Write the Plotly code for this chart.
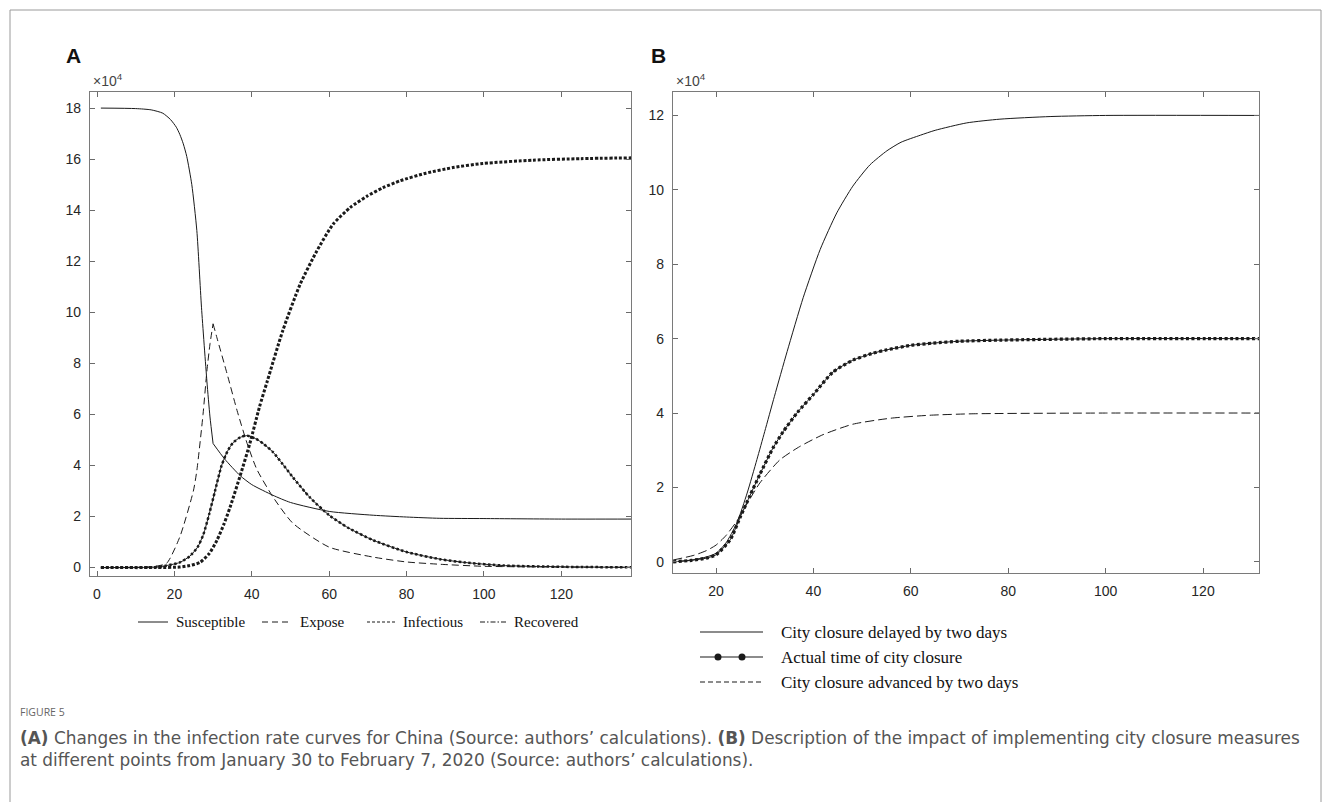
import plotly.graph_objects as go

W, H = 1331, 802

# ---------------- Panel A data (values in units of 10^4) ----------------
s_days = [1, 10, 14, 17, 19, 20.5, 21.4, 22.3, 23.2, 24.5, 25.8, 27, 28.4, 29.2, 30,
          33, 37, 40, 45.5, 50, 60, 71.4, 80, 88.6, 100, 120, 138]
susceptible = [18.0, 17.98, 17.93, 17.8, 17.55, 17.25, 16.97, 16.6, 16.1, 15.0, 13.2, 10.2, 7.3, 5.9, 4.86,
               4.25, 3.6, 3.25, 2.83, 2.55, 2.2, 2.05, 1.98, 1.93, 1.92, 1.9, 1.9]

e_days = [1, 10, 15, 18, 21.4, 24.9, 25.8, 27.4, 28.4, 29.2, 30,
          31, 33.6, 36.2, 38.8, 41.3, 45.5, 50.6, 60, 71.4, 80, 88.6, 100, 120, 138]
expose = [0.0, 0.01, 0.05, 0.17, 1.2, 3.0, 3.8, 6.0, 7.7, 8.76, 9.55,
          9.0, 7.6, 6.15, 4.86, 3.85, 2.76, 1.74, 0.8, 0.41, 0.22, 0.13, 0.05, 0.02, 0.01]

i_days = [1, 10, 15.4, 18, 21.4, 24, 26, 27.5, 29, 30.5, 32.2, 33.7, 35.2, 37, 38.7, 41, 43,
          45.5, 48, 50.6, 55, 60, 65, 71.4, 80, 88.6, 95, 105, 120, 138]
infectious = [0.0, 0.0, 0.02, 0.08, 0.2, 0.45, 0.8, 1.3, 2.1, 3.0, 4.0, 4.55, 4.9, 5.1, 5.17, 5.05, 4.85,
              4.52, 4.05, 3.54, 2.75, 2.05, 1.55, 1.07, 0.61, 0.33, 0.2, 0.08, 0.03, 0.01]

r_days = [1, 15, 21.4, 24, 26.6, 29, 31, 32.8, 34.4, 37, 39.5, 42, 44, 48, 52.5, 56.8, 61,
          65.4, 69.8, 73.9, 78.3, 85, 92, 99.7, 112.7, 125, 138]
recovered = [0.0, 0.0, 0.02, 0.08, 0.2, 0.55, 1.07, 1.7, 2.37, 3.6, 4.86, 6.3, 7.3, 9.28, 11.1, 12.4, 13.45,
             14.1, 14.55, 14.88, 15.15, 15.45, 15.67, 15.83, 15.96, 16.02, 16.05]

# ---------------- Panel B data (values in units of 10^4) ----------------
d_days = [11.2, 15, 18, 20, 22, 24.3, 26.4, 28.4, 30, 32, 34.6, 37.9, 41.4, 44.8, 48.1, 51.6,
          55.1, 58, 62, 65, 71.5, 78.3, 88.6, 100, 131.5]
delayed = [0.0, 0.05, 0.13, 0.23, 0.5, 1.05, 1.85, 2.75, 3.5, 4.45, 5.65, 7.1, 8.4, 9.38, 10.1, 10.67,
           11.05, 11.28, 11.47, 11.6, 11.8, 11.9, 11.97, 12.0, 12.0]

t_days = [11.2, 15, 18, 20, 22.9, 25, 27, 29, 31.7, 33.8, 36.8, 40, 44, 48.1, 52, 55.1, 60,
          64.6, 70, 78.3, 100, 131.5]
actual = [0.0, 0.04, 0.1, 0.19, 0.59, 1.21, 1.79, 2.35, 3.06, 3.5, 4.03, 4.5, 5.1, 5.42, 5.6, 5.7, 5.82,
          5.88, 5.93, 5.96, 6.0, 6.0]

v_days = [11.2, 15.3, 18, 20, 22, 24.3, 27, 29, 33.1, 37.2, 42, 48.1, 55.8, 63.8, 72.8, 100, 131.5]
advanced = [0.05, 0.17, 0.3, 0.45, 0.7, 1.1, 1.7, 2.12, 2.74, 3.1, 3.42, 3.7, 3.86, 3.94, 3.98, 4.0, 4.0]

a_xticks = [0, 20, 40, 60, 80, 100, 120]
a_yticks = [0, 2, 4, 6, 8, 10, 12, 14, 16, 18]
b_xticks = [20, 40, 60, 80, 100, 120]
b_yticks = [0, 2, 4, 6, 8, 10, 12]

legend_a = ["Susceptible", "Expose", "Infectious", "Recovered"]
legend_b = ["City closure delayed by two days", "Actual time of city closure",
            "City closure advanced by two days"]

caption_title = "FIGURE 5"
caption_1 = ("<b>(A)</b> Changes in the infection rate curves for China (Source: authors’ calculations). "
             "<b>(B)</b> Description of the impact of implementing city closure measures")
caption_2 = "at different points from January 30 to February 7, 2020 (Source: authors’ calculations)."

INK = "#1a1a1a"


def X(px):
    return px / W


def Y(py):
    return 1 - py / H


fig = go.Figure()

# Panel A ---------------------------------------------------------------
k = s_days.index(30)
for xs, ys in [(s_days[:k + 1], susceptible[:k + 1]), (s_days[k:], susceptible[k:])]:
    fig.add_trace(go.Scatter(x=xs, y=ys, mode="lines", xaxis="x", yaxis="y", showlegend=False,
                             line=dict(color=INK, width=1, shape="spline", smoothing=0.6)))
ke = e_days.index(30)
for xs, ys in [(e_days[:ke + 1], expose[:ke + 1]), (e_days[ke:], expose[ke:])]:
    fig.add_trace(go.Scatter(x=xs, y=ys, mode="lines", xaxis="x", yaxis="y", showlegend=False,
                             line=dict(color=INK, width=1, dash="7px,4px", shape="spline", smoothing=0.6)))
fig.add_trace(go.Scatter(x=i_days, y=infectious, mode="lines", xaxis="x", yaxis="y", showlegend=False,
                         line=dict(color=INK, width=1, shape="spline", smoothing=0.6)))
fig.add_trace(go.Scatter(x=i_days, y=infectious, mode="lines", xaxis="x", yaxis="y", showlegend=False,
                         line=dict(color=INK, width=2.5, dash="2.5px,2.4px", shape="spline", smoothing=0.6)))
fig.add_trace(go.Scatter(x=r_days, y=recovered, mode="lines", xaxis="x", yaxis="y", showlegend=False,
                         line=dict(color=INK, width=3, dash="3px,1.8px", shape="spline", smoothing=0.6)))

# Panel B ---------------------------------------------------------------
fig.add_trace(go.Scatter(x=d_days, y=delayed, mode="lines", xaxis="x2", yaxis="y2", showlegend=False,
                         line=dict(color=INK, width=1, shape="spline", smoothing=0.6)))
fig.add_trace(go.Scatter(x=t_days, y=actual, mode="lines", xaxis="x2", yaxis="y2", showlegend=False,
                         line=dict(color=INK, width=1, shape="spline", smoothing=0.6)))
fig.add_trace(go.Scatter(x=t_days, y=actual, mode="lines", xaxis="x2", yaxis="y2", showlegend=False,
                         line=dict(color=INK, width=3.2, dash="3px,2.5px", shape="spline", smoothing=0.6)))
fig.add_trace(go.Scatter(x=v_days, y=advanced, mode="lines", xaxis="x2", yaxis="y2", showlegend=False,
                         line=dict(color=INK, width=1, dash="9px,4px", shape="spline", smoothing=0.6)))

axis_common = dict(showline=True, linecolor="#7a7a7a", linewidth=1.3, mirror="ticks",
                   ticks="inside", ticklen=5, tickcolor="#6a6a6a", tickwidth=1,
                   showgrid=False, zeroline=False, ticklabelstandoff=5,
                   tickfont=dict(family="Liberation Sans", size=14, color="#262626"))

fig.update_layout(
    width=W, height=H, margin=dict(l=0, r=0, t=0, b=0),
    paper_bgcolor="white", plot_bgcolor="white", showlegend=False,
    xaxis=dict(domain=[X(90), X(631)], range=[-1.81, 138], tickvals=a_xticks, anchor="y", **axis_common),
    yaxis=dict(domain=[Y(576), Y(92)], range=[-0.33, 18.63], tickvals=a_yticks, anchor="x", **axis_common),
    xaxis2=dict(domain=[X(673), X(1259)], range=[11.17, 131.5], tickvals=b_xticks, anchor="y2", **axis_common),
    yaxis2=dict(domain=[Y(573), Y(92)], range=[-0.30, 12.63], tickvals=b_yticks, anchor="x2", **axis_common),
)

shapes = []
annotations = []

# outer frame
shapes.append(dict(type="rect", xref="paper", yref="paper", x0=X(10), x1=X(1321), y0=Y(830), y1=Y(10),
                   line=dict(color="#9a9a9a", width=1)))

# panel letters and exponents
for txt, px in [("A", 64), ("B", 649)]:
    annotations.append(dict(text=f"<b>{txt}</b>", x=X(px), y=Y(56), xref="paper", yref="paper",
                            xanchor="left", yanchor="middle", showarrow=False,
                            font=dict(family="Liberation Sans", size=21, color="#111")))
for px in [91, 674]:
    annotations.append(dict(text="×10<sup>4</sup>", x=X(px), y=Y(91), xref="paper", yref="paper",
                            xanchor="left", yanchor="bottom", showarrow=False,
                            font=dict(family="Liberation Sans", size=14, color="#444")))

# legend A
leg_a_y = 622
leg_a_items = [(138, 168, "solid", 1), (262, 292, "6px,4px", 1), (367, 395, "3px,2px", 1.2),
               (480, 506, "5px,2px,1.5px,2px", 1.2)]
for (x0, x1, dash, wd), label in zip(leg_a_items, legend_a):
    shapes.append(dict(type="line", xref="paper", yref="paper", x0=X(x0), x1=X(x1), y0=Y(leg_a_y),
                       y1=Y(leg_a_y), line=dict(color=INK, width=wd, dash=dash)))
    annotations.append(dict(text=label, x=X(x1 + 6), y=Y(leg_a_y), xref="paper", yref="paper",
                            xanchor="left", yanchor="middle", showarrow=False,
                            font=dict(family="Liberation Serif", size=15, color="#111")))

# legend B
leg_b_rows = [632, 657, 682]
leg_b_dash = ["solid", "solid", "5px,3px"]
for row_y, dash, label in zip(leg_b_rows, leg_b_dash, legend_b):
    shapes.append(dict(type="line", xref="paper", yref="paper", x0=X(700), x1=X(763), y0=Y(row_y),
                       y1=Y(row_y), line=dict(color=INK, width=1.2, dash=dash)))
    annotations.append(dict(text=label, x=X(779), y=Y(row_y), xref="paper", yref="paper",
                            xanchor="left", yanchor="middle", showarrow=False,
                            font=dict(family="Liberation Serif", size=17, color="#111")))
for cx in [718, 742]:
    shapes.append(dict(type="circle", xref="paper", yref="paper", x0=X(cx - 3.5), x1=X(cx + 3.5),
                       y0=Y(leg_b_rows[1] + 3.5), y1=Y(leg_b_rows[1] - 3.5),
                       fillcolor=INK, line=dict(color=INK, width=0)))

# caption
annotations.append(dict(text=caption_title, x=X(18), y=Y(712), xref="paper", yref="paper",
                        xanchor="left", yanchor="middle", showarrow=False,
                        font=dict(family="Open Sans", size=10.5, color="#666")))
annotations.append(dict(text=caption_1, x=X(18), y=Y(738), xref="paper", yref="paper",
                        xanchor="left", yanchor="middle", showarrow=False,
                        font=dict(family="DejaVu Sans", size=16.9, color="#555")))
annotations.append(dict(text=caption_2, x=X(18), y=Y(760), xref="paper", yref="paper",
                        xanchor="left", yanchor="middle", showarrow=False,
                        font=dict(family="DejaVu Sans", size=16.9, color="#555")))

fig.update_layout(shapes=shapes, annotations=annotations)
fig.write_html("out.html", config={"displayModeBar": False},
               post_script="document.body.style.margin='0px';")
